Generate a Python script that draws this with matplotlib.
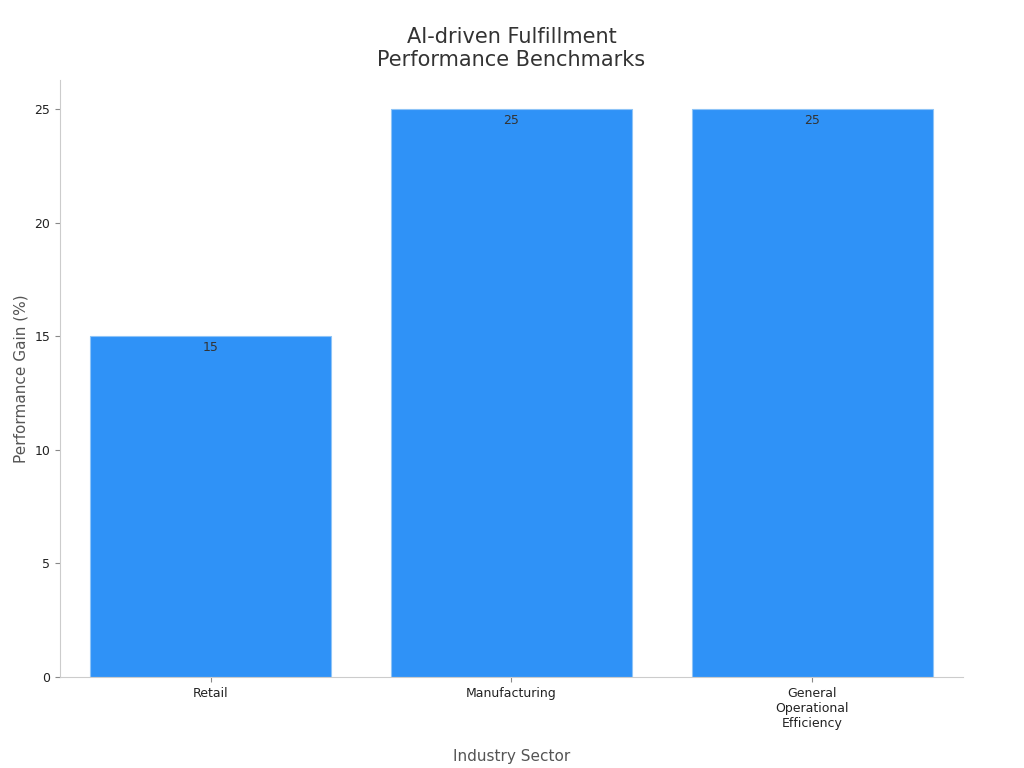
import matplotlib
matplotlib.use("Agg")
import matplotlib.pyplot as plt

sectors = ["Retail", "Manufacturing", "General\nOperational\nEfficiency"]
gains = [15, 25, 25]

fig = plt.figure(figsize=(10.24, 7.68), dpi=100)
ax = fig.add_axes([0.0586, 0.1185, 0.8818, 0.7775])

x = list(range(len(sectors)))
bars = ax.bar(x, gains, width=0.8, color="#2f92f7", edgecolor="#8ec4f7", linewidth=0.8)
for b, v in zip(bars, gains):
    ax.text(b.get_x() + b.get_width() / 2, v - 0.2, str(v), ha="center", va="top",
            fontsize=9, color="#333333")

ax.set_xlim(-0.5, 2.5)
ax.set_ylim(0, 26.3)
ax.set_xticks(x)
ax.set_xticklabels(sectors, fontsize=9, color="#222222")
ax.set_yticks([0, 5, 10, 15, 20, 25])
ax.tick_params(axis="y", labelsize=9, colors="#222222")
ax.tick_params(axis="both", color="#888888")
for s in ["top", "right"]:
    ax.spines[s].set_visible(False)
for s in ["left", "bottom"]:
    ax.spines[s].set_color("#cccccc")

ax.set_xlabel("Industry Sector", fontsize=11, color="#555555", labelpad=14)
ax.set_ylabel("Performance Gain (%)", fontsize=11, color="#555555")
ax.set_title("AI-driven Fulfillment\nPerformance Benchmarks", fontsize=15, color="#333333", pad=10)

fig.savefig("out.png", dpi=100)
